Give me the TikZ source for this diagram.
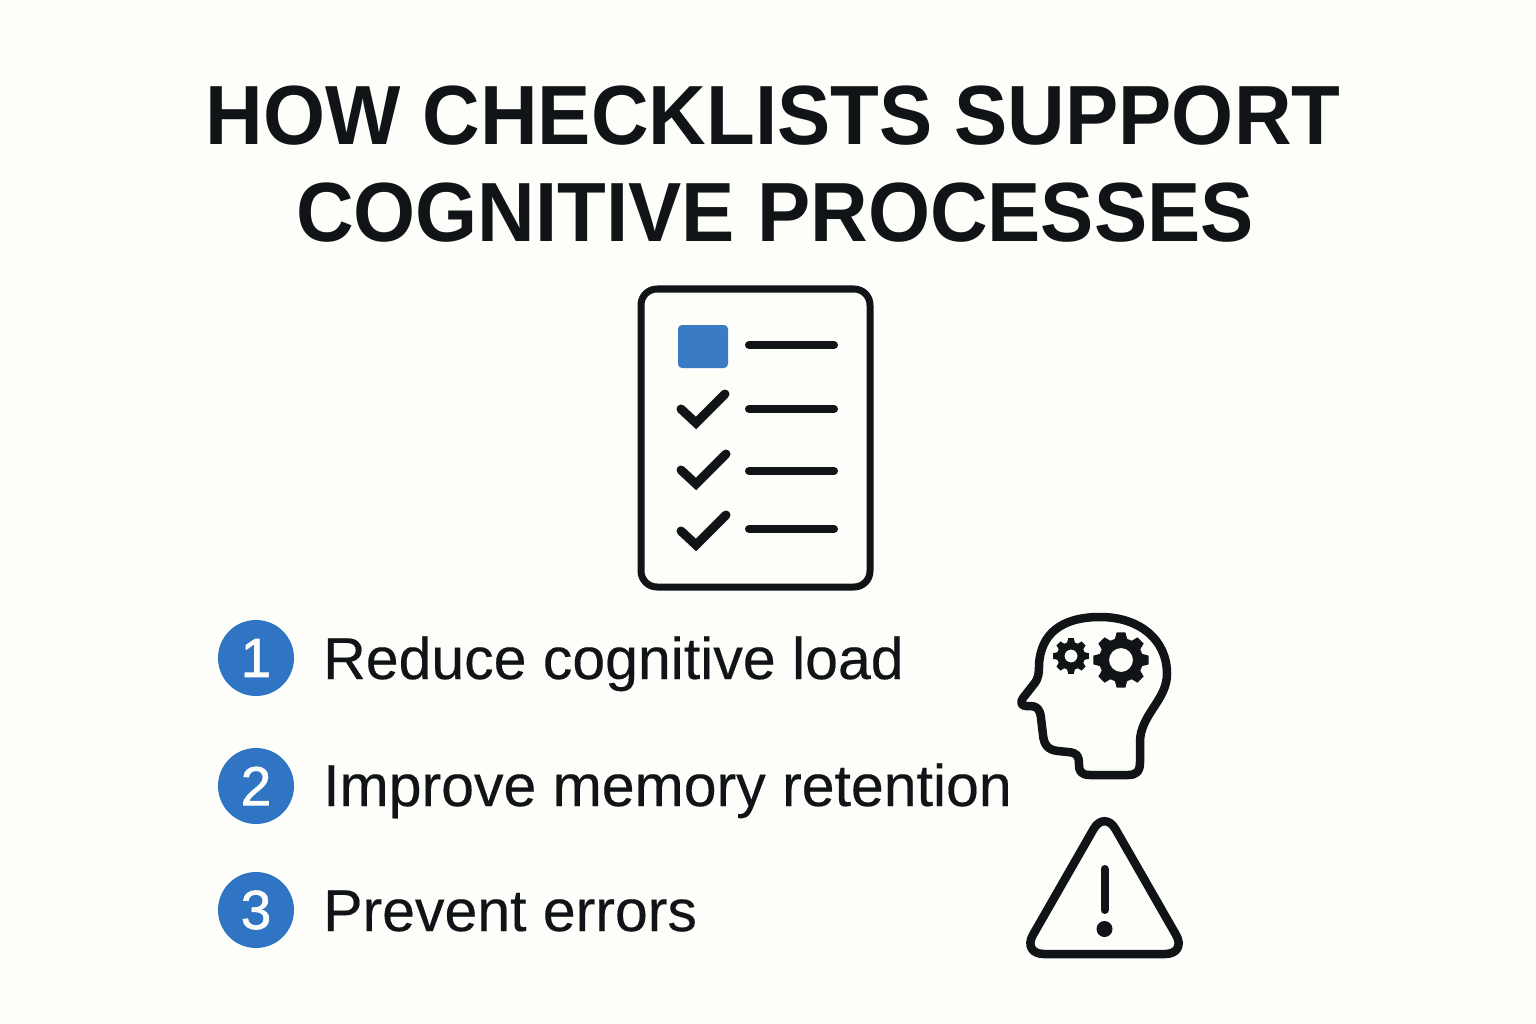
\documentclass[tikz,border=0pt]{standalone}
\usepackage{fontspec}
\setmainfont{Liberation Sans}[FakeBold=0.3]
\newfontfamily\titlefont{Liberation Sans}[BoldFont={Liberation Sans Bold},BoldFeatures={FakeStretch=0.95}]
\newfontfamily\digitfont{Liberation Sans}[FakeBold=1.2]
\definecolor{paper}{HTML}{FDFDFA}
\definecolor{ink}{HTML}{111417}
\definecolor{tickblue}{HTML}{3B7AC4}
\definecolor{badgeblue}{HTML}{2F75C4}
\tikzset{
  icon/.style={draw=ink,line width=7pt,line cap=round,line join=round},
  tick/.style={icon,line width=9pt,line join=miter},
  rowline/.style={icon,line width=8pt},
  titleline/.style={text=ink,font=\titlefont\bfseries\fontsize{84}{84}\selectfont,anchor=base,inner sep=0pt},
  badge/.style={circle,fill=badgeblue,minimum size=76pt,inner sep=0pt,text=paper,font=\digitfont\fontsize{55}{55}\selectfont},
  itemtext/.style={text=ink,anchor=base west,inner sep=0pt,font=\fontsize{59}{59}\selectfont},
}
\newcommand{\gearshape}[5]{% x, y, outer, root, hole
  \fill[ink,even odd rule]
    ({#1+#4*cos(-16)},{#2+#4*sin(-16)})
    \foreach \k in {0,...,7} {
      -- ({#1+#3*cos(\k*45-9)},{#2+#3*sin(\k*45-9)})
      -- ({#1+#3*cos(\k*45+9)},{#2+#3*sin(\k*45+9)})
      -- ({#1+#4*cos(\k*45+16)},{#2+#4*sin(\k*45+16)})
      -- ({#1+#4*cos(\k*45+29)},{#2+#4*sin(\k*45+29)})
    } -- cycle
    (#1,#2) circle[radius=#5];
}
\begin{document}
\begin{tikzpicture}[x=1pt,y=-1pt]
  \useasboundingbox[fill=paper] (0,0) rectangle (1536,1024);
  % title
  \node[titleline] (title1) at (773,145) {HOW CHECKLISTS SUPPORT};
  \node[titleline] (title2) at (775,242) {COGNITIVE PROCESSES};
  % checklist
  \draw[icon,fill=paper,rounded corners=16pt] (641,289) rectangle (870,587);
  \fill[tickblue,rounded corners=4pt] (678,325) rectangle (728,368);
  \foreach \y in {345,409,471,529}
    \draw[rowline] (749,\y) -- (834,\y);
  \draw[tick] (681,409) -- (696,423) -- (725,394);
  \draw[tick] (681,470) -- (696,484) -- (726,454);
  \draw[tick] (681,531) -- (696,545) -- (726,515);
  % list
  \node[badge] (b1) at (256,658) {1};
  \node[badge] (b2) at (256,786) {2};
  \node[badge] (b3) at (256,910) {3};
  \node[itemtext] (t1) at (323,679) {Reduce cognitive load};
  \node[itemtext] (t2) at (323,806) {Improve memory retention};
  \node[itemtext] (t3) at (323,931) {Prevent errors};
  % head
  \draw[icon,line width=8.5pt] (1100,617) .. controls (1140,617) and (1167,640) .. (1167,674)
    .. controls (1167,700) and (1140,715) .. (1140,742) -- (1140,762)
    .. controls (1140,772) and (1136,775) .. (1128,775) -- (1090,775)
    .. controls (1081,775) and (1079,771) .. (1079,765)
    .. controls (1079,755) and (1077,753) .. (1068,752) -- (1058,751)
    .. controls (1048,750) and (1044,745) .. (1043,735) -- (1041,718)
    .. controls (1040,709) and (1037,706) .. (1030,706) -- (1026,706)
    .. controls (1021,706) and (1020,702) .. (1023,698) -- (1034,684)
    .. controls (1039,678) and (1039,672) .. (1039,664)
    .. controls (1041,635) and (1060,617) .. (1100,617) -- cycle;
  \gearshape{1071}{656}{18}{14}{6.5}
  \gearshape{1121}{660}{28}{22}{12}
  % warning
  \draw[icon,line width=8.5pt,rounded corners=22pt] (1104.5,810) -- (1187,954) -- (1022,954) -- cycle;
  \draw[icon,line width=8pt] (1104.5,869) -- (1104.5,910);
  \fill[ink] (1104.5,929) circle[radius=8];
\end{tikzpicture}
\end{document}
